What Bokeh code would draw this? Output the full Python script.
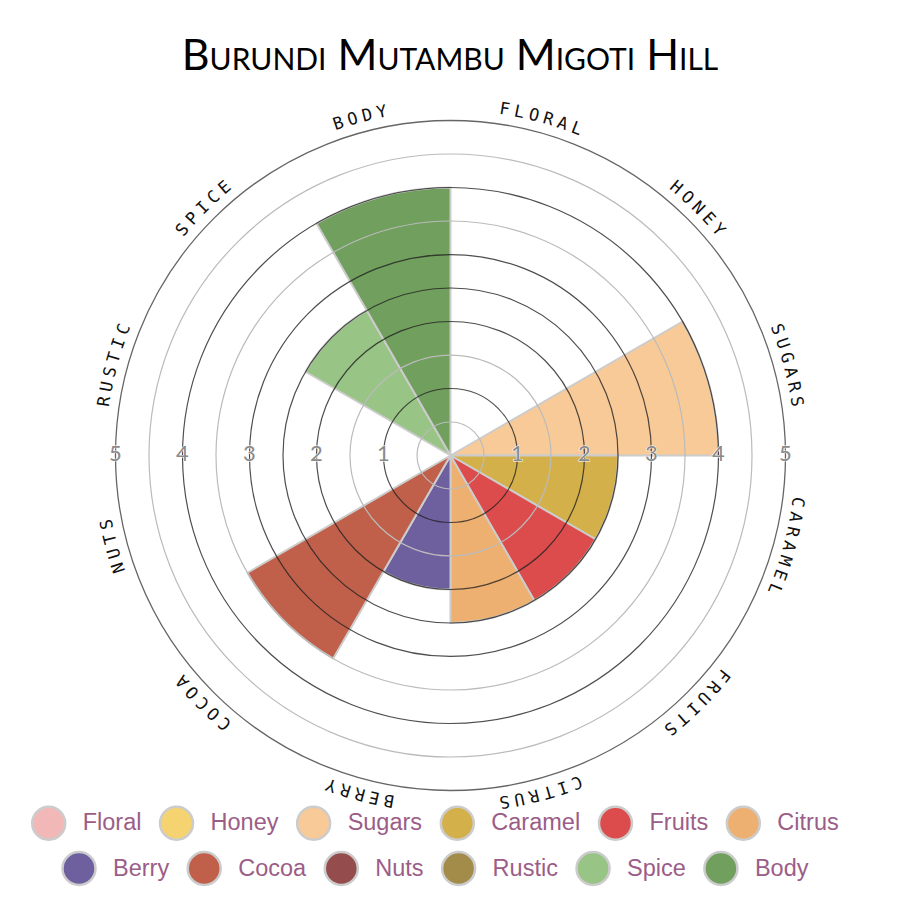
import math
import numpy as np
from bokeh.plotting import figure
from bokeh.models import Range1d, Div
from bokeh.layouts import column
from bokeh.core.properties import value
from bokeh.embed import file_html
from bokeh.resources import INLINE

# ---------------- data ----------------
TITLE = "Burundi Mutambu Migoti Hill"
categories = ["Floral", "Honey", "Sugars", "Caramel", "Fruits", "Citrus",
              "Berry", "Cocoa", "Nuts", "Rustic", "Spice", "Body"]
scores = [0, 0, 4, 2.5, 2.5, 2.5, 2, 3.5, 0, 0, 2.5, 4]
colors = ["#f2b8b8", "#f4d370", "#f8ca98", "#d4b04a", "#dc4c4c", "#edb070",
          "#6e5f9e", "#c0604a", "#944c4c", "#a38c4a", "#98c485", "#719f5e"]
tick_values = [1, 2, 3, 4, 5]
dark_rings = [1, 2, 2.5, 3, 4]
light_rings = [0.5, 1.5, 3.5, 4.5]
outer_ring = [5]

# ---------------- layout ----------------
SCALE = 67.0           # px per score unit
CX, CY = 450.0, 455.0  # page position of centre
ORIGIN = 0.0           # page offset of the layout
W = 884
TITLE_H = 80
H = 816


def to_x(px):
    return (px - CX) / SCALE


def to_y(py):
    return (CY - py) / SCALE


p = figure(width=W, height=H, output_backend="svg", toolbar_location=None,
           x_axis_type=None, y_axis_type=None,
           x_range=Range1d(to_x(ORIGIN), to_x(ORIGIN + W)),
           y_range=Range1d(to_y(ORIGIN + TITLE_H + H), to_y(ORIGIN + TITLE_H)),
           min_border=0, outline_line_color=None,
           background_fill_color="white", border_fill_color="white")

n = len(categories)
step = 360.0 / n
starts = [math.radians(90 - step * (i + 1)) for i in range(n)]
ends = [math.radians(90 - step * i) for i in range(n)]

# wedges
p.wedge(x=0, y=0, radius=scores, start_angle=starts, end_angle=ends,
        direction="anticlock", fill_color=colors, fill_alpha=1.0,
        line_color="#cccccc", line_width=2)

# rings
p.circle(x=0, y=0, radius=light_rings, fill_color=None,
         line_color="#bbbbbb", line_width=1.2)
p.circle(x=0, y=0, radius=dark_rings, fill_color=None,
         line_color="#222222", line_alpha=0.8, line_width=1.2)
p.circle(x=0, y=0, radius=outer_ring, fill_color=None,
         line_color="#666666", line_width=1.3)

# tick labels on both sides
tx = [v for v in tick_values] + [-v for v in tick_values]
ty = [to_y(CY - 2)] * len(tx)
tt = [str(v) for v in tick_values] * 2
p.text(x=tx, y=ty, text=tt, text_align="center", text_baseline="middle",
       text_font=value("Lato"), text_font_size="22px",
       text_color="white", text_outline_color="white")
p.text(x=tx, y=ty, text=tt, text_align="center", text_baseline="middle",
       text_font=value("Lato"), text_font_size="22px",
       text_color="#8a8a8a")

# category labels along the outer circle
R_LAB = 351.0 / SCALE
STEP_DEG = 2.45
cx_, cy_, ct_, ca_ = [], [], [], []
for i, name in enumerate(categories):
    word = name.upper()
    centre = step * i + step / 2
    m = len(word)
    for k, ch in enumerate(word):
        th = centre + (k - (m - 1) / 2) * STEP_DEG
        r = math.radians(th)
        cx_.append(R_LAB * math.sin(r))
        cy_.append(R_LAB * math.cos(r))
        ct_.append(ch)
        ca_.append(-r)
p.text(x=cx_, y=cy_, text=ct_, angle=ca_, text_align="center",
       text_baseline="middle", text_font=value("DejaVu Sans Mono"),
       text_font_size="17px", text_color="#111111")

# legend
ARIAL = {'F': 611, 'l': 222, 'o': 556, 'r': 333, 'a': 556, 'H': 722, 'n': 556,
         'e': 556, 'y': 500, 'S': 667, 'u': 556, 'g': 556, 's': 500, 'C': 722,
         'm': 833, 'i': 222, 't': 278, 'B': 667, 'N': 722, 'R': 722, 'c': 500,
         'p': 556, 'd': 556}
LFS = 23.5


def tw(s):
    return sum(ARIAL.get(c, 556) for c in s) / 1000.0 * LFS * 1.01


rows = [list(range(0, 6)), list(range(6, 12))]
row_y = [822.7, 868.0]
ROW_CENTRE = 436.5
R_DOT = 17.0
GAP = 34.5
lx, ly, lc, tx2, ty2, tt2 = [], [], [], [], [], []
for r_i, idxs in enumerate(rows):
    widths = [tw(categories[i]) for i in idxs]
    total = R_DOT + sum(GAP + w for w in widths) + GAP * (len(idxs) - 1)
    cur = ROW_CENTRE - total / 2 + R_DOT
    for i, w in zip(idxs, widths):
        lx.append(to_x(cur))
        ly.append(to_y(row_y[r_i]))
        lc.append(colors[i])
        tx2.append(to_x(cur + 34))
        ty2.append(to_y(row_y[r_i] - 1))
        tt2.append(categories[i])
        cur = cur + 34 + w + GAP
p.scatter(x=lx, y=ly, marker="circle", size=33, fill_color=lc,
          line_color="#cccccc", line_width=2.5)
p.text(x=tx2, y=ty2, text=tt2, text_align="left", text_baseline="middle",
       text_font=value("Liberation Sans"), text_font_size="%gpx" % LFS,
       text_color="#9b5d87")

title = Div(text=('<div style="width:%dpx;text-align:center;font-family:Lato,sans-serif;'
                  'font-variant:small-caps;font-size:43px;font-weight:400;line-height:42px;'
                  'padding-top:33px;padding-left:16px;color:#000;">%s</div>') % (W, TITLE),
            width=W, height=TITLE_H, margin=(0, 0, 0, 0))

layout = column(title, p, spacing=0)
open("out.html", "w").write(file_html(layout, INLINE))
